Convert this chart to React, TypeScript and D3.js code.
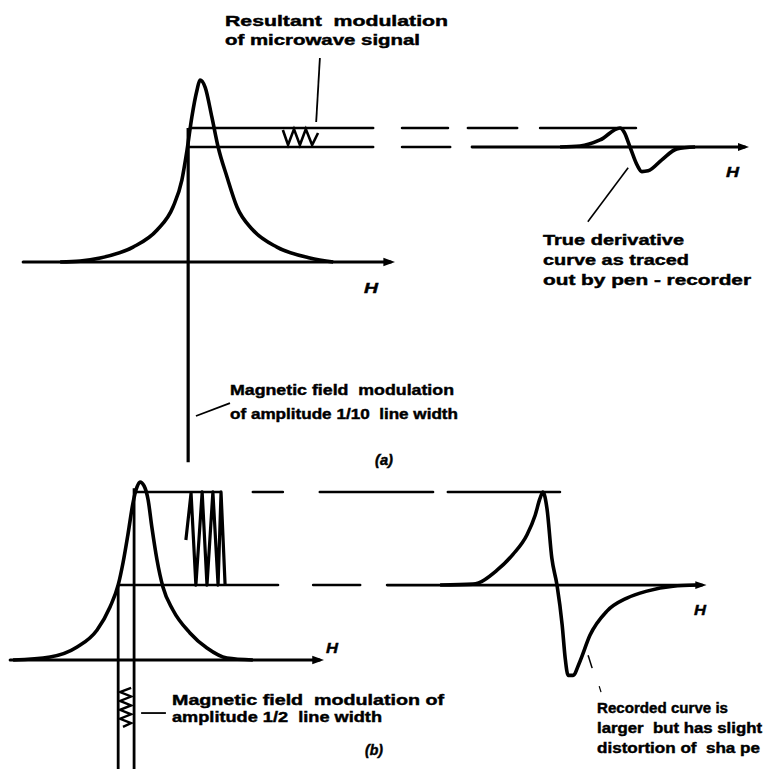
import React from "react";
import * as d3 from "d3";

type P = [number, number];

// ---- Panel (a): absorption line, H (arb. units, 0 = resonance) vs signal (peak = 1)
const absorptionA: P[] = [
  [-37.8, 0], [-32.4, 0.005], [-27, 0.022], [-18.1, 0.082], [-11.6, 0.176],
  [-7.3, 0.302], [-4.9, 0.45], [-3.5, 0.615], [-2.2, 0.797], [-0.8, 0.945],
  [0, 1], [1.4, 0.96], [3.2, 0.797], [4.9, 0.632], [7.3, 0.467], [10, 0.302],
  [14.3, 0.176], [20.8, 0.082], [29.7, 0.022], [36, 0],
];
// true derivative as traced (level 0 = lower modulation line, 1 = upper)
const derivativeA: P[] = [
  [-18.9, 0], [-13.5, 0.05], [-8.1, 0.37], [-2.7, 1], [-1.6, 0.79], [0, 0],
  [1.9, -0.95], [3.2, -1.3], [4.9, -1.26], [8.6, -0.68], [12.7, -0.1], [17.6, 0],
];
const modLevelsA = [0.632, 0.736];
const modFieldA = [-3.2];
const microwaveModA: P[] = [
  [22.4, 0.725], [23.8, 0.643], [25.4, 0.73], [27, 0.643], [28.6, 0.73],
  [30.3, 0.643], [31.9, 0.709],
];

// ---- Panel (b)
const absorptionB: P[] = [
  [-34.3, 0], [-24.3, 0.017], [-17, 0.073], [-11.6, 0.169], [-8.1, 0.298],
  [-5.9, 0.421], [-4.6, 0.545], [-3.2, 0.713], [-1.9, 0.882], [-0.8, 0.972],
  [0, 1], [1.1, 0.978], [2.2, 0.899], [3.2, 0.747], [4.6, 0.562], [6.2, 0.41],
  [8.9, 0.281], [13.5, 0.152], [18.1, 0.067], [23.5, 0.011], [30.5, 0],
];
const recordedB: P[] = [
  [-31.6, 0], [-22.7, 0.01], [-16.2, 0.16], [-11.9, 0.33], [-8.1, 0.54],
  [-5.9, 0.75], [-4.6, 0.93], [-3.8, 1], [-2.7, 0.82], [-1.4, 0.29], [0, 0],
  [1.4, -0.43], [2.2, -0.78], [3.0, -0.97], [4.3, -0.97], [6.2, -0.82],
  [8.9, -0.54], [13.5, -0.28], [18.9, -0.14], [24.3, -0.065], [31.4, -0.012], [37.8, 0],
];
const modLevelsB = [0.421, 0.944];
const modFieldB = [-5.9, -1.6];
const microwaveModB: P[] = [
  [12.4, 0.674], [13.8, 0.938], [15.1, 0.421], [16.8, 0.944], [18.1, 0.421],
  [19.7, 0.944], [21.1, 0.421], [21.9, 0.944], [23, 0.421],
];
const fieldModB: P[] = [
  [-2.4, -0.157], [-5.4, -0.18], [-2.4, -0.205], [-5.4, -0.23], [-2.4, -0.255],
  [-5.4, -0.28], [-2.4, -0.305], [-5.4, -0.33], [-2.4, -0.355], [-4.6, -0.376],
];

// ---- Text
const labelTopA = ["Resultant  modulation", "of microwave signal"];
const labelDerivA = ["True derivative", "curve as traced", "out by pen - recorder"];
const labelFieldA = ["Magnetic field  modulation", "of amplitude 1/10  line width"];
const labelFieldB = ["Magnetic field  modulation of", "amplitude 1/2  line width"];
const labelRecB = ["Recorded curve is", "larger  but has slight", "distortion of  sha pe"];
const panelTags = ["(a)", "(b)"];
const axisName = "H";

export default function App() {
  const xA = d3.scaleLinear().domain([-50, 50]).range([15, 385]);
  const yA = d3.scaleLinear().domain([0, 1]).range([262, 80]);
  const xAd = d3.scaleLinear().domain([-50, 50]).range([445, 815]);
  const yAd = d3.scaleLinear().domain([0, 1]).range([yA(modLevelsA[0]), yA(modLevelsA[1])]);

  const xB = d3.scaleLinear().domain([-50, 50]).range([-45, 325]);
  const yB = d3.scaleLinear().domain([0, 1]).range([660, 482]);
  const xBd = d3.scaleLinear().domain([-50, 50]).range([372, 742]);
  const yBd = d3.scaleLinear().domain([0, 1]).range([yB(modLevelsB[0]), yB(modLevelsB[1])]);

  const smooth = (xs: d3.ScaleLinear<number, number>, ys: d3.ScaleLinear<number, number>) =>
    d3.line<P>().x((d) => xs(d[0])).y((d) => ys(d[1])).curve(d3.curveMonotoneX);
  const straight = (xs: d3.ScaleLinear<number, number>, ys: d3.ScaleLinear<number, number>) =>
    d3.line<P>().x((d) => xs(d[0])).y((d) => ys(d[1]));

  const seg = (
    xs: d3.ScaleLinear<number, number>, ys: d3.ScaleLinear<number, number>,
    level: number, from: number, to: number, w: number, arrow = false, key?: string
  ) => (
    <line key={key} x1={xs(from)} x2={xs(to)} y1={ys(level)} y2={ys(level)}
      stroke="#000" strokeWidth={w} strokeLinecap="round"
      markerEnd={arrow ? "url(#arr)" : undefined} />
  );

  const font = "'Liberation Sans', Arial, Helvetica, sans-serif";
  const txt = (s: string, x: number, y: number, len: number, key: string, italic = false) => (
    <text key={key} x={x} y={y} textLength={len} lengthAdjust="spacingAndGlyphs"
      fontFamily={font} fontWeight="bold" fontSize={15}
      fontStyle={italic ? "italic" : "normal"} fill="#000" stroke="#000" strokeWidth={0.45}
      style={{ whiteSpace: "pre" }}>
      {s}
    </text>
  );

  // dash segments in derivative-plot units: [level, from, to]
  const dashesA: [number, number, number][] = [
    [1, -61.6, -49.2], [1, -43.8, -30.5], [1, -24.3, 1.6], [0, -61.6, -48.6],
  ];
  const dashesB: [number, number, number][] = [
    [1, -82.2, -74.1], [1, -64.1, -33.5], [1, -29.5, 0.8], [0, -65.9, -53.2],
  ];

  return (
    <svg width={775} height={769} style={{ position: "absolute", left: 0, top: 0, background: "#fff" }}>
      <defs>
        <marker id="arr" viewBox="0 0 10 10" refX="6" refY="5" markerWidth="4" markerHeight="4" orient="auto">
          <path d="M0,1.5 L10,5 L0,8.5 z" fill="#000" />
        </marker>
      </defs>

      {/* ===== Panel (a) ===== */}
      {seg(xA, yA, 0, -47.8, 51.5, 3, true)}
      <path d={smooth(xA, yA)(absorptionA) || ""} fill="none" stroke="#000" strokeWidth={3.6} strokeLinejoin="round" />
      {seg(xA, yA, modLevelsA[1], -2.7, 46.8, 2.6)}
      {seg(xA, yA, modLevelsA[0], -3.2, 46.8, 2.6)}
      {modFieldA.map((h, i) => (
        <line key={"va" + i} x1={xA(h)} x2={xA(h)} y1={yA(modLevelsA[1])} y2={yA(-1.1)} stroke="#000" strokeWidth={3.2} />
      ))}
      <path d={straight(xA, yA)(microwaveModA) || ""} fill="none" stroke="#000" strokeWidth={2.6} />
      {dashesA.map((d, i) => seg(xAd, yAd, d[0], d[1], d[2], 2.6, false, "da" + i))}
      {seg(xAd, yAd, 0, -42.7, 31, 2.8, true)}
      <path d={smooth(xAd, yAd)(derivativeA) || ""} fill="none" stroke="#000" strokeWidth={3.6} strokeLinejoin="round" />

      {/* leaders (a) */}
      <path d={straight(xA, yA)([[32.4, 1.121], [31.4, 0.769]]) || ""} stroke="#000" strokeWidth={1.8} />
      <path d={straight(xAd, yAd)([[-11.4, -3.95], [-0.5, -1.1]]) || ""} stroke="#000" strokeWidth={1.6} />
      <path d={straight(xA, yA)([[-1.1, -0.846], [8.1, -0.775]]) || ""} stroke="#000" strokeWidth={1.8} />

      {txt(labelTopA[0], 225, 26, 223, "ta0")}
      {txt(labelTopA[1], 225, 45, 195, "ta1")}
      {txt(labelDerivA[0], 543, 245, 141, "da0")}
      {txt(labelDerivA[1], 543, 265, 146, "da1")}
      {txt(labelDerivA[2], 543, 285, 208, "da2")}
      {txt(labelFieldA[0], 230, 395, 224, "fa0")}
      {txt(labelFieldA[1], 230, 419, 228, "fa1")}
      {txt(panelTags[0], 375, 465, 18, "pa", true)}
      {txt(axisName, 364, 293, 14, "ha", true)}
      {txt(axisName, 726, 177, 13, "had", true)}

      {/* ===== Panel (b) ===== */}
      {seg(xB, yB, 0, -35.1, 48.5, 3, true)}
      <path d={smooth(xB, yB)(absorptionB) || ""} fill="none" stroke="#000" strokeWidth={3.6} strokeLinejoin="round" />
      {seg(xB, yB, modLevelsB[1], -1.1, 21.6, 2.6)}
      {seg(xB, yB, modLevelsB[0], -5.9, 37.3, 2.6)}
      {modFieldB.map((h, i) => (
        <line key={"vb" + i} x1={xB(h)} x2={xB(h)} y1={yB(i === 0 ? modLevelsB[0] : 0.965)} y2={yB(-0.62)} stroke="#000" strokeWidth={2.8} />
      ))}
      <path d={straight(xB, yB)(microwaveModB) || ""} fill="none" stroke="#000" strokeWidth={3.2} strokeLinejoin="round" />
      <path d={straight(xB, yB)(fieldModB) || ""} fill="none" stroke="#000" strokeWidth={2.4} />
      {dashesB.map((d, i) => seg(xBd, yBd, d[0], d[1], d[2], 2.6, false, "db" + i))}
      {seg(xBd, yBd, 0, -45.9, 39.2, 2.8, true)}
      <path d={smooth(xBd, yBd)(recordedB) || ""} fill="none" stroke="#000" strokeWidth={3.6} strokeLinejoin="round" />

      {/* leaders (b) */}
      <path d={straight(xB, yB)([[0.3, -0.298], [7, -0.298]]) || ""} stroke="#000" strokeWidth={1.8} />
      <path d={straight(xBd, yBd)([[8.4, -0.753], [9.5, -0.892]]) || ""} stroke="#000" strokeWidth={1.5} />
      <path d={straight(xBd, yBd)([[11.4, -1.086], [11.9, -1.15]]) || ""} stroke="#000" strokeWidth={1.2} />

      {txt(labelFieldB[0], 172, 705, 272, "fb0")}
      {txt(labelFieldB[1], 172, 722, 210, "fb1")}
      {txt(labelRecB[0], 597, 713, 131, "rb0")}
      {txt(labelRecB[1], 597, 733, 165, "rb1")}
      {txt(labelRecB[2], 597, 753, 163, "rb2")}
      {txt(panelTags[1], 365, 755, 18, "pb", true)}
      {txt(axisName, 326, 653, 12, "hb", true)}
      {txt(axisName, 694, 615, 12, "hbd", true)}
    </svg>
  );
}
